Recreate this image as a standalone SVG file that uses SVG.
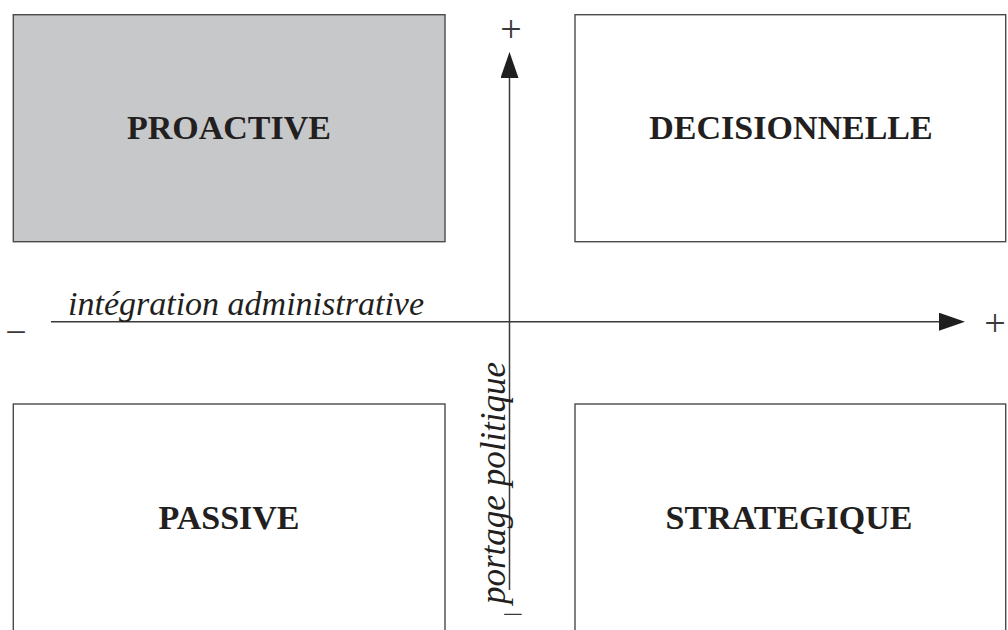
<svg xmlns="http://www.w3.org/2000/svg" width="1008" height="630" viewBox="0 0 1008 630">
<style>
.box{fill:#ffffff;stroke:#4a4a4a;stroke-width:1.4}
.grey{fill:#c7c8ca}
.lbl{font-family:"Liberation Serif","Times New Roman",serif;font-weight:bold;font-size:34px;fill:#231f20;text-anchor:middle}
.ax{font-family:"Liberation Serif","Times New Roman",serif;font-style:italic;font-size:34px;fill:#231f20}
.sign{font-family:"Liberation Serif","Times New Roman",serif;font-size:38px;fill:#3a3a3a;text-anchor:middle}
.axis{stroke:#3a3a3a;stroke-width:1.5;fill:none}
</style>
<defs>
<marker id="arr" viewBox="0 0 26 18" refX="0" refY="9" markerWidth="26" markerHeight="18" markerUnits="userSpaceOnUse" orient="auto">
<path d="M0,0 L26,9 L0,18 Z" fill="#1f1f1f"/>
</marker>
</defs>
<rect width="1008" height="630" fill="#ffffff"/>
<g id="proactive">
<rect class="box grey" x="13.3" y="14.7" width="431.7" height="227"/>
<text class="lbl" x="229" y="139">PROACTIVE</text>
</g>
<g id="decisionnelle">
<rect class="box" x="575" y="14.7" width="430.7" height="227"/>
<text class="lbl" x="791" y="139">DECISIONNELLE</text>
</g>
<g id="passive">
<rect class="box" x="13.3" y="404" width="431.7" height="240"/>
<text class="lbl" x="229" y="529">PASSIVE</text>
</g>
<g id="strategique">
<rect class="box" x="575" y="404" width="430.7" height="240"/>
<text class="lbl" x="789" y="529">STRATEGIQUE</text>
</g>
<g id="connectors">
<line class="axis" x1="509.5" y1="590" x2="509.5" y2="78" marker-end="url(#arr)"/>
<line class="axis" x1="51" y1="321.7" x2="939" y2="321.7" marker-end="url(#arr)"/>
</g>
<g id="axis-labels">
<text class="ax" x="68" y="315">intégration administrative</text>
<text class="ax" style="font-size:35px" transform="translate(505,604) rotate(-90)">portage politique</text>
<text class="sign" x="511" y="42">+</text>
<text class="sign" x="995" y="336">+</text>
<text class="sign" x="16" y="345">−</text>
<text class="sign" style="font-size:29px" transform="translate(513,623.5) scale(1.3,1)">−</text>
</g>
</svg>
